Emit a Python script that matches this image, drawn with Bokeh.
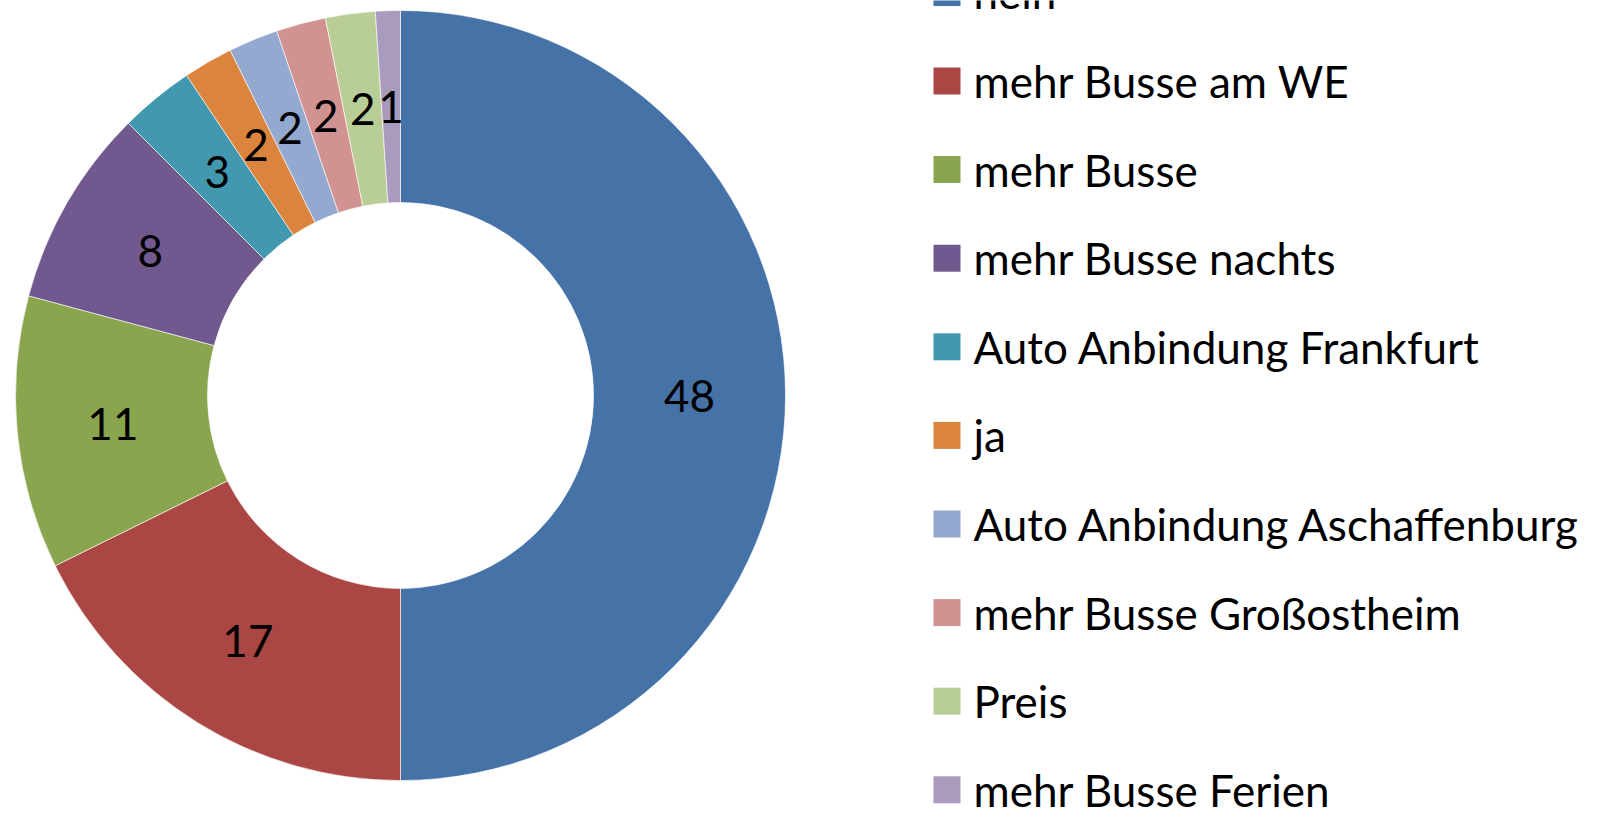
import math
from bokeh.plotting import figure
from bokeh.models import Range1d, ColumnDataSource
from bokeh.core.properties import value
from bokeh.embed import file_html
from bokeh.resources import INLINE

categories = ["nein", "mehr Busse am WE", "mehr Busse", "mehr Busse nachts",
              "Auto Anbindung Frankfurt", "ja", "Auto Anbindung Aschaffenburg",
              "mehr Busse Großostheim", "Preis", "mehr Busse Ferien"]
counts = [48, 17, 11, 8, 3, 2, 2, 2, 2, 1]
colors = ["#4572A7", "#AA4643", "#89A54E", "#71588F", "#4198AF",
          "#DB843D", "#93A9CF", "#D19392", "#B9CD96", "#A99BBD"]

W, H = 1586, 817
FONT = "Lato"
FS = "44px"

p = figure(width=W, height=H, output_backend="svg", toolbar_location=None,
           x_range=Range1d(0, W), y_range=Range1d(833 - H, 833),
           min_border=0)
p.axis.visible = False
p.grid.visible = False
p.outline_line_color = None
p.background_fill_color = "white"

def sy(y):
    return 833 - y

cx, cy = 400, 395
r_in, r_out = 193, 385
total = sum(counts)
starts, ends, lx, ly = [], [], [], []
cum = 0
for c in counts:
    a0 = math.pi / 2 - cum * 2 * math.pi / total
    a1 = math.pi / 2 - (cum + c) * 2 * math.pi / total
    starts.append(a1)
    ends.append(a0)
    mid = (a0 + a1) / 2
    rm = (r_in + r_out) / 2
    lx.append(cx + rm * math.cos(mid))
    ly.append(sy(cy) + rm * math.sin(mid))
    cum += c

src = ColumnDataSource(dict(start=starts, end=ends, color=colors,
                            lx=lx, ly=ly, lab=[str(c) for c in counts]))
p.annular_wedge(x=cx, y=sy(cy), inner_radius=r_in, outer_radius=r_out,
                start_angle="start", end_angle="end", fill_color="color",
                line_color="white", line_width=0.6, source=src)
p.text(x="lx", y="ly", text="lab", source=src, text_align="center",
       text_baseline="middle", text_font=value(FONT), text_font_size=FS,
       text_color="black")

# legend (spacing slightly tightened so the last entry stays inside the frame)
leg_y = [sy(-8.1 + 88.6 * i) for i in range(len(categories))]
lsrc = ColumnDataSource(dict(y=leg_y, color=colors, name=categories))
p.rect(x=946.5, y="y", width=27, height=27, fill_color="color",
       line_color=None, source=lsrc)
p.text(x=973, y="y", text="name", source=lsrc, text_align="left",
       text_baseline="middle", text_font=value(FONT), text_font_size=FS,
       text_color="black")

open("out.html", "w").write(file_html(p, INLINE))
